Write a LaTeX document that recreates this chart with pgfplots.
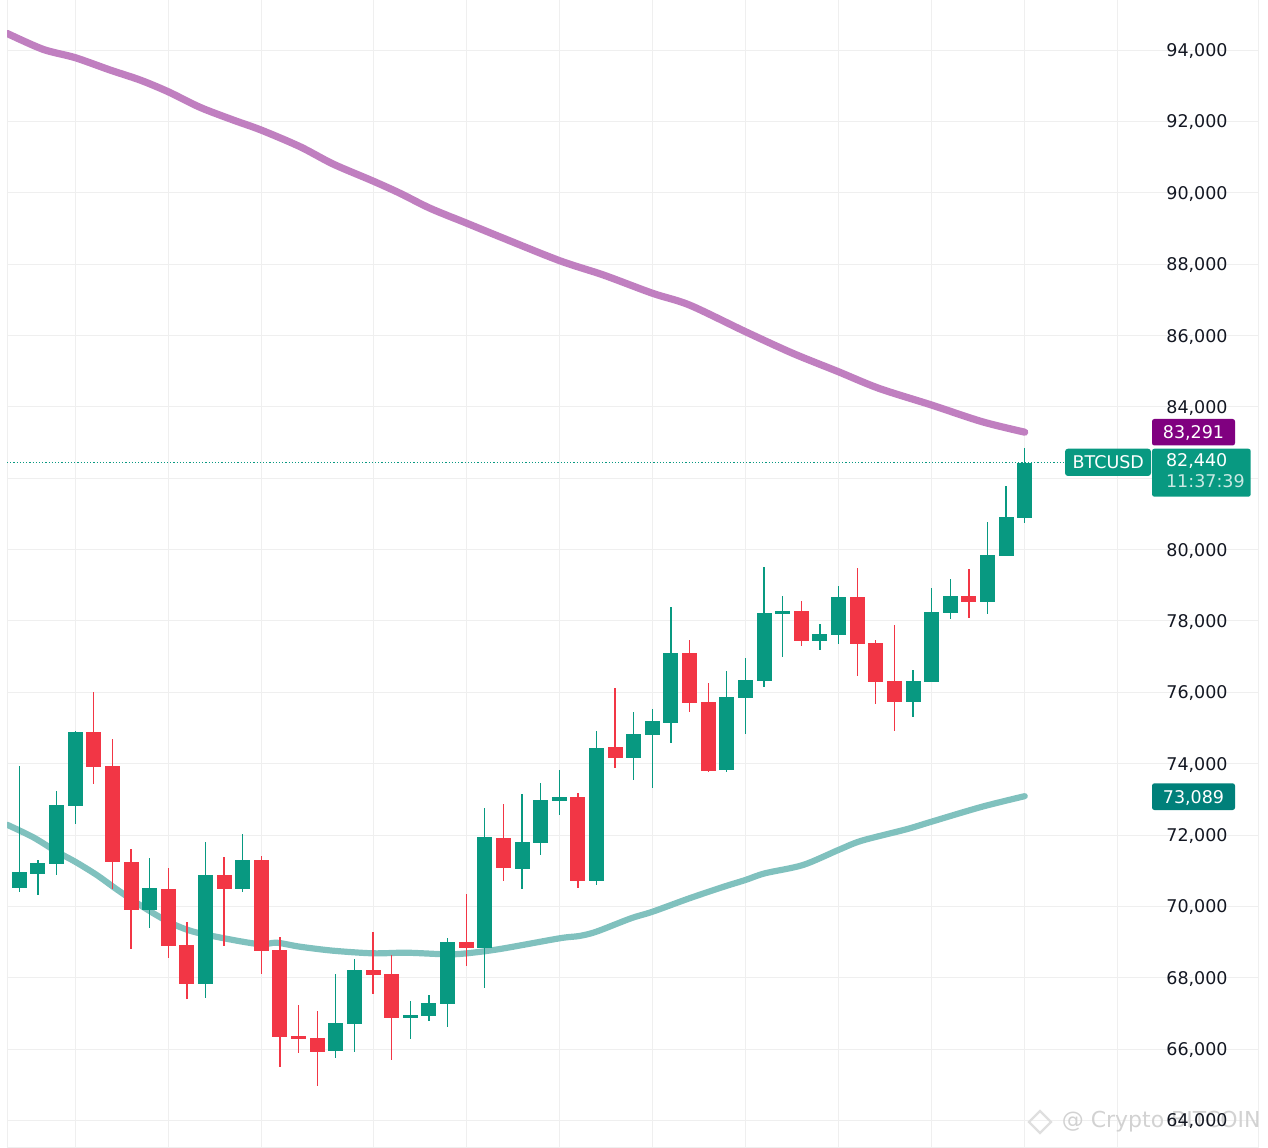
\documentclass[border=0pt]{standalone}
\usepackage{pgfplots}
\pgfplotsset{compat=1.18}
\usepackage{pgfplotstable}
\usepackage{fontspec}
\setmainfont{DejaVu Sans}
\definecolor{cg}{HTML}{089981}
\definecolor{cr}{HTML}{F23645}
\definecolor{mapurple}{HTML}{C07FC0}
\definecolor{mateal}{HTML}{80C1BE}
\definecolor{gridc}{HTML}{EFEFEF}
\definecolor{txt}{HTML}{131722}
\definecolor{boxpurple}{HTML}{800080}
\definecolor{boxteal}{HTML}{00807A}

% candles, prices in thousands of USD
\pgfplotstableread{
i o h l c
0 70.523 73.934 70.411 70.963
1 70.915 71.299 70.327 71.215
2 71.196 73.233 70.887 72.841
3 72.821 74.915 72.317 74.887
7 69.906 71.355 69.402 70.515
10 67.832 71.804 67.440 70.879
12 70.495 72.028 70.411 71.299
17 65.954 68.104 65.758 66.730
18 66.711 68.524 65.926 68.216
21 66.879 67.347 66.290 66.955
22 66.935 67.515 66.795 67.291
23 67.271 69.113 66.627 69.001
25 68.841 72.757 67.720 71.944
27 71.056 73.149 70.495 71.804
28 71.784 73.458 71.448 72.981
29 72.962 73.822 72.569 73.065
31 70.719 74.915 70.607 74.439
33 74.167 75.448 73.550 74.831
34 74.812 75.532 73.326 75.196
35 75.148 78.391 74.587 77.102
38 73.830 76.597 73.774 75.868
39 75.849 76.961 74.840 76.345
40 76.325 79.512 76.157 78.223
41 78.203 78.708 76.998 78.279
43 77.446 77.914 77.194 77.634
44 77.615 78.980 77.362 78.671
48 75.737 76.625 75.316 76.317
49 76.297 78.924 76.297 78.251
50 78.231 79.176 78.063 78.699
52 78.540 80.774 78.203 79.849
53 79.829 81.783 79.829 80.914
54 80.894 82.848 80.754 82.440
}\greentab

\pgfplotstableread{
i o h l c
4 74.887 76.008 73.438 73.915
5 73.934 74.691 70.495 71.252
6 71.243 71.608 68.813 69.906
8 70.487 71.075 68.561 68.897
9 68.917 69.561 67.403 67.832
11 70.879 71.383 68.897 70.495
13 71.299 71.411 68.112 68.757
14 68.777 69.141 65.506 66.347
15 66.366 67.235 65.898 66.290
16 66.310 67.075 64.973 65.926
19 68.216 69.281 67.552 68.084
20 68.104 68.636 65.702 66.879
24 69.001 70.346 68.337 68.841
26 71.916 72.869 70.719 71.084
30 73.065 73.177 70.523 70.719
32 74.467 76.121 73.887 74.167
36 77.102 77.466 75.456 75.708
37 75.728 76.261 73.780 73.802
42 78.279 78.551 77.306 77.446
45 78.671 79.484 76.465 77.362
46 77.382 77.466 75.680 76.297
47 76.317 77.886 74.924 75.737
51 78.699 79.456 78.091 78.540
}\redtab

\newcommand\px[2]{({((#1)-7)*0.5pt},{(1147-(#2))*0.5pt})}

\begin{document}
\begin{tikzpicture}[every node/.style={font=\fontsize{8.75}{10.5}\selectfont}]
\begin{axis}[
  scale only axis, width=625.5pt, height=573.5pt,
  xmin=-0.661, xmax=66.53, ymin=63.255, ymax=95.405,
  xtick={3,8,13,19,24,29,34,39,44,49,54,59},
  ytick={64,66,...,94},
  xticklabels={}, yticklabels={},
  major tick length=0pt,
  grid=major, major grid style={gridc, line width=0.5pt},
  axis line style={gridc, line width=0.5pt},
  clip=true,
  candle/.style={only marks, mark=*, mark size=0pt, mark options={draw=none, fill=none},
    error bars/.cd, y dir=plus, y explicit, error mark=none},
]
% moving averages
\addplot[mapurple, line width=3.6pt, line cap=round, smooth, mark=none] coordinates {
(-0.661,94.47) (1.27,94.023) (3,93.788) (4.87,93.443) (6.48,93.163) (7.99,92.835) (9.7,92.398) (11.48,92.042) (12.98,91.761) (15.08,91.293) (16.85,90.808) (18.99,90.332) (20.45,89.987) (22.06,89.567) (24.04,89.146) (25.8,88.77) (29.02,88.098) (31.37,87.697) (34.01,87.184) (35.99,86.856) (39,86.108) (41.54,85.502) (43.99,84.986) (46.16,84.521) (48.99,84.053) (51.71,83.585) (54,83.291)};
\addplot[mateal, line width=3.1pt, line cap=round, smooth, mark=none] coordinates {
(-0.661,72.29) (0.75,71.936) (2.01,71.532) (3,71.252) (4.16,70.879) (5.23,70.478) (6.48,70.038) (8,69.57) (9.35,69.29) (11.49,69.057) (12.99,68.936) (13.82,68.981) (15.08,68.869) (16.86,68.757) (18.99,68.684) (20.8,68.701) (22.95,68.656) (24.03,68.684) (25.82,68.805) (29.02,69.105) (30.07,69.169) (30.99,69.29) (32.85,69.665) (34.01,69.85) (35.99,70.226) (37.84,70.551) (39,70.739) (40.05,70.927) (42.09,71.159) (43.99,71.58) (45.24,71.84) (47.64,72.16) (48.99,72.373) (51.71,72.793) (54,73.089)};
% price line
\addplot[cg, densely dotted, line width=0.6pt, mark=none] coordinates {(-0.661,82.44) (56.16,82.44)};
% wicks
\addplot[cg, candle, error bar style={line width=0.65pt}]
  table[x=i, y=l, y error plus expr=\thisrow{h}-\thisrow{l}] {\greentab};
\addplot[cr, candle, error bar style={line width=0.65pt}]
  table[x=i, y=l, y error plus expr=\thisrow{h}-\thisrow{l}] {\redtab};
% bodies
\addplot[cg, candle, error bar style={line width=7.5pt}]
  table[x=i, y=o, y error plus expr=\thisrow{c}-\thisrow{o}] {\greentab};
\addplot[cr, candle, error bar style={line width=7.5pt}]
  table[x=i, y=c, y error plus expr=\thisrow{o}-\thisrow{c}] {\redtab};
\end{axis}

% watermark
\draw[gray!25, line width=1.2pt] \px{1040}{1111} -- \px{1051}{1122} -- \px{1040}{1133} -- \px{1029}{1122} -- cycle;
\node[anchor=east, inner sep=0pt, text=gray!35, font=\fontsize{11}{13}\selectfont] at \px{1261}{1122} {@ Crypto BITCOIN};

% price scale labels
\foreach \v in {64,66,...,94} {
  \pgfmathsetmacro\yy{(95.405-\v)*35.677}
  \node[anchor=east, inner sep=0pt, text depth=0pt, text=txt] at \px{1228}{\yy} {\v,000};
}

% purple MA label
\fill[boxpurple, rounded corners=1.2pt] \px{1152}{419} rectangle \px{1235}{445.5};
\node[text=white, inner sep=0pt, text depth=0pt] at \px{1193.5}{432.2} {83,291};
% BTCUSD label
\fill[cg, rounded corners=1.5pt] \px{1065}{448.7} rectangle \px{1151}{476};
\node[text=white, inner sep=0pt, text depth=0pt] at \px{1108.3}{462.4} {BTCUSD};
\fill[cg, rounded corners=1.2pt] \px{1152}{448.7} rectangle \px{1250.7}{496.7};
\node[anchor=west, text=white, inner sep=0pt, text depth=0pt] at \px{1165.7}{459.7} {82,440};
\node[anchor=west, text=white!78!cg, inner sep=0pt, text depth=0pt] at \px{1165.7}{481} {11:37:39};
% teal MA label
\fill[boxteal, rounded corners=1.2pt] \px{1152}{783.3} rectangle \px{1235}{810};
\node[text=white, inner sep=0pt, text depth=0pt] at \px{1193.5}{796.6} {73,089};

\pgfresetboundingbox
\path \px{0}{0} rectangle \px{1268}{1147};
\end{tikzpicture}
\end{document}
